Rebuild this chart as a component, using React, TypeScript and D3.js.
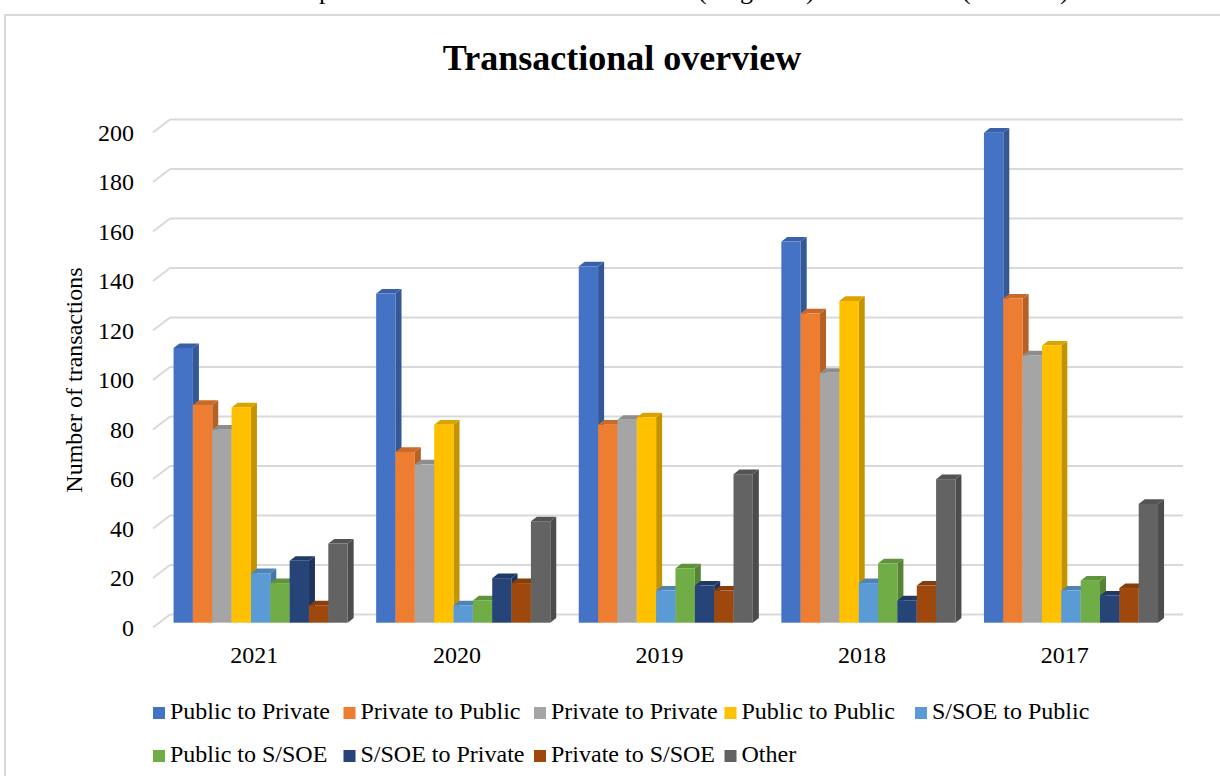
import React from 'react';
import * as d3 from 'd3';

const years = ['2021', '2020', '2019', '2018', '2017'];

const seriesNames = [
  'Public to Private',
  'Private to Public',
  'Private to Private',
  'Public to Public',
  'S/SOE to Public',
  'Public to S/SOE',
  'S/SOE to Private',
  'Private to S/SOE',
  'Other',
];

const seriesColors = ['#4472C4', '#ED7D31', '#A5A5A5', '#FFC000', '#5B9BD5', '#70AD47', '#264478', '#9E480E', '#636363'];

// one row per series, one value per year (2021..2017)
const publicToPrivate = [111, 133, 144, 154, 198];
const privateToPublic = [88, 69, 80, 125, 131];
const privateToPrivate = [78, 64, 82, 101, 108];
const publicToPublic = [87, 80, 83, 130, 112];
const ssoeToPublic = [20, 7, 13, 16, 13];
const publicToSsoe = [16, 9, 22, 24, 17];
const ssoeToPrivate = [25, 18, 15, 9, 11];
const privateToSsoe = [7, 16, 13, 15, 14];
const other = [32, 41, 60, 58, 48];

const seriesValues = [
  publicToPrivate, privateToPublic, privateToPrivate, publicToPublic,
  ssoeToPublic, publicToSsoe, ssoeToPrivate, privateToSsoe, other,
];

const yTicks = [0, 20, 40, 60, 80, 100, 120, 140, 160, 180, 200];

const W = 1220;
const H = 776;
const font = '"Liberation Serif", "Times New Roman", serif';

// 3D offsets: back wall relative to the front plane, and the bar's own depth
const wallDx = 17, wallDy = 13;
const barFrontDx = 6.3, barFrontDy = 4.8;
const barDx = 6, barDy = 4.6;

export default function App() {
  const y = d3.scaleLinear().domain([0, 200]).range([627.5, 132.5]);
  const x = d3.scaleBand<string>().domain(years).range([153, 1166]).paddingInner(0.1407).paddingOuter(0.0704);
  const xs = d3.scaleBand<string>().domain(seriesNames).range([0, x.bandwidth()]);

  const bars: JSX.Element[] = [];
  years.forEach((yr, yi) => {
    seriesNames.forEach((s, si) => {
      const v = seriesValues[si][yi];
      const bx = (x(yr) ?? 0) + (xs(s) ?? 0) + barFrontDx;
      const bw = xs.bandwidth();
      const y0 = y(0) - barFrontDy;
      const y1 = y(v) - barFrontDy;
      const c = d3.color(seriesColors[si])!;
      const side = c.darker(0.75).formatHex();
      const top = c.darker(0.45).formatHex();
      bars.push(
        <g key={yr + s}>
          <path
            d={`M${bx + bw},${y1} L${bx + bw + barDx},${y1 - barDy} L${bx + bw + barDx},${y0 - barDy} L${bx + bw},${y0} Z`}
            fill={side}
          />
          <path
            d={`M${bx},${y1} L${bx + barDx},${y1 - barDy} L${bx + bw + barDx},${y1 - barDy} L${bx + bw},${y1} Z`}
            fill={top}
          />
          <rect x={bx} y={y1} width={bw} height={y0 - y1} fill={seriesColors[si]} />
        </g>
      );
    });
  });

  const colW = 190.5;
  const legendRows = [seriesNames.slice(0, 5), seriesNames.slice(5)];
  const rowBase = [719, 762];

  return (
    <svg width={W} height={H} style={{ position: 'absolute', left: 0, top: 0, background: '#fff' }} fontFamily={font}>
      <rect x={0} y={0} width={W} height={H} fill="#fff" />
      {/* descenders of the document line above the chart */}
      <g fontSize={26} fill="#000">
        <text x={319} y={-1}>p</text>
        <text x={698} y={-1}>(</text>
        <text x={740} y={-1}>g</text>
        <text x={806} y={-1}>)</text>
        <text x={962} y={-1}>(</text>
        <text x={1060} y={-1}>)</text>
      </g>
      <rect x={5} y={15} width={1300} height={900} fill="#fff" stroke="#d9d9d9" strokeWidth={2} />

      <text x={622} y={70} textAnchor="middle" fontSize={36} fontWeight="bold" fill="#000">
        Transactional overview
      </text>

      {/* back wall gridlines and side wall ticks */}
      <g stroke="#d9d9d9" strokeWidth={2} fill="none">
        {yTicks.map(t => (
          <g key={t}>
            <line x1={170} x2={1183} y1={y(t) - wallDy} y2={y(t) - wallDy} />
            <line x1={153} x2={153 + wallDx} y1={y(t)} y2={y(t) - wallDy} />
          </g>
        ))}
      </g>

      <g fontSize={24} fill="#000" textAnchor="end">
        {yTicks.map(t => (
          <text key={t} x={134} y={y(t) + 8}>{t}</text>
        ))}
      </g>

      <text
        transform={`translate(${82},${380}) rotate(-90)`}
        textAnchor="middle"
        fontSize={24}
        fill="#000"
      >
        Number of transactions
      </text>

      {bars}

      <g fontSize={24} fill="#000" textAnchor="middle">
        {years.map(yr => (
          <text key={yr} x={(x(yr) ?? 0) + x.bandwidth() / 2} y={663}>{yr}</text>
        ))}
      </g>

      <g fontSize={24} fill="#000">
        {legendRows.map((row, ri) =>
          row.map((s, ci) => {
            const lx = 153 + ci * colW;
            const si = seriesNames.indexOf(s);
            return (
              <g key={s}>
                <rect x={lx} y={rowBase[ri] - 12} width={12} height={12} fill={seriesColors[si]} />
                <text x={lx + 17} y={rowBase[ri]}>{s}</text>
              </g>
            );
          })
        )}
      </g>
    </svg>
  );
}
